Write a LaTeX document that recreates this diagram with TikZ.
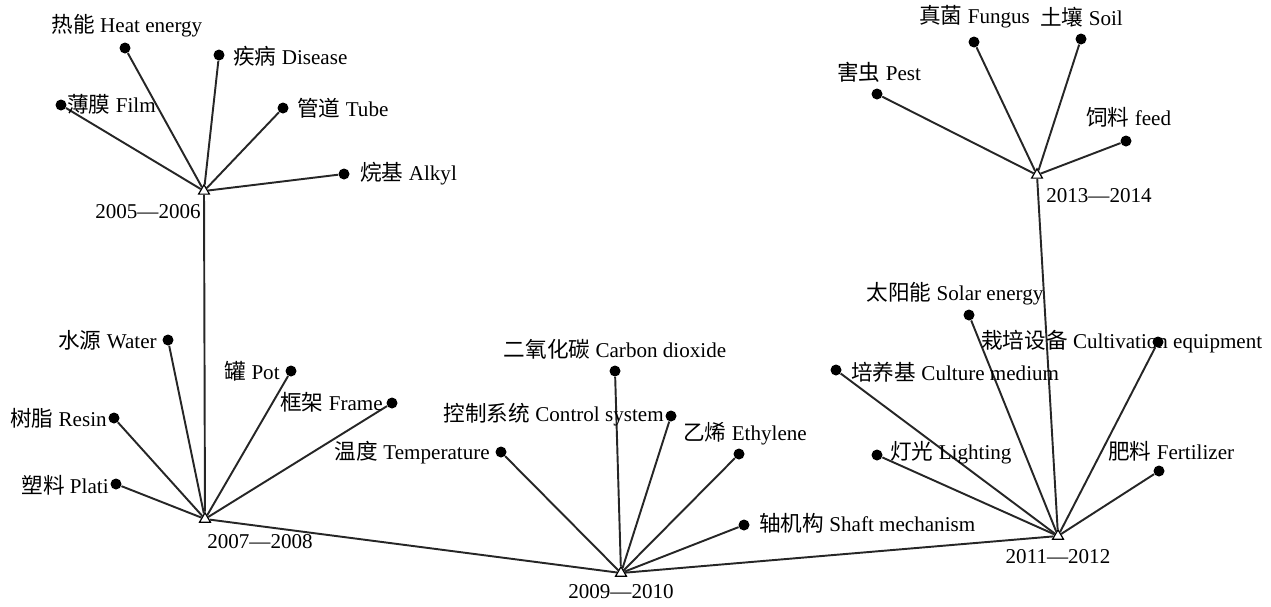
\documentclass[tikz,border=0pt]{standalone}
\usepackage{fontspec}
\setmainfont{Liberation Serif}
\newfontfamily\cjk{Noto Sans CJK SC}
\usetikzlibrary{shapes.geometric}
\newcommand{\zh}[1]{{\cjk\fontsize{12.3}{14}\selectfont #1}}
\tikzset{
  hub/.style={regular polygon, regular polygon sides=3, draw=black, fill=white, line width=0.7pt, inner sep=0pt, minimum size=0.25cm},
  leaf/.style={circle, fill=black, inner sep=0pt, minimum size=0.22cm},
  lab/.style={inner sep=0pt, font=\fontsize{12}{14}\selectfont},
  edge/.style={line width=1.1pt, draw=black!85}
}
\begin{document}
\begin{tikzpicture}[x=0.02cm, y=-0.02cm]
\useasboundingbox (0,0) rectangle (1271,606);
% hubs
\node[hub] (A) at (204,191) {};
\node[hub] (B) at (205,519) {};
\node[hub] (C) at (621,573) {};
\node[hub] (D) at (1058,536) {};
\node[hub] (E) at (1037,175) {};
% leaves
\node[leaf] (heat) at (125,48) {};
\node[leaf] (dis) at (219,55) {};
\node[leaf] (film) at (61,105) {};
\node[leaf] (tube) at (283,108) {};
\node[leaf] (alk) at (344,174) {};
\node[leaf] (water) at (168,340) {};
\node[leaf] (pot) at (291,371) {};
\node[leaf] (frame) at (392,403) {};
\node[leaf] (resin) at (114,418) {};
\node[leaf] (plati) at (116,484) {};
\node[leaf] (co2) at (615,371) {};
\node[leaf] (ctrl) at (671,416) {};
\node[leaf] (temp) at (501,452) {};
\node[leaf] (eth) at (739,454) {};
\node[leaf] (shaft) at (744,525) {};
\node[leaf] (solar) at (969,315) {};
\node[leaf] (cult) at (1158,342) {};
\node[leaf] (med) at (836,370) {};
\node[leaf] (light) at (877,455) {};
\node[leaf] (fert) at (1159,471) {};
\node[leaf] (pest) at (877,94) {};
\node[leaf] (fung) at (974,42) {};
\node[leaf] (soil) at (1081,39) {};
\node[leaf] (feed) at (1126,141) {};
% edges
\foreach \l in {heat,dis,film,tube,alk} \draw[edge] (A) -- (\l);
\foreach \l in {water,pot,frame,resin,plati} \draw[edge] (B) -- (\l);
\foreach \l in {co2,ctrl,temp,eth,shaft} \draw[edge] (C) -- (\l);
\foreach \l in {solar,cult,med,light,fert} \draw[edge] (D) -- (\l);
\foreach \l in {pest,fung,soil,feed} \draw[edge] (E) -- (\l);
\draw[edge] (B) -- (A);
\draw[edge] (B) -- (C);
\draw[edge] (C) -- (D);
\draw[edge] (D) -- (E);
% labels
\node[lab] (t1) at (127,26) {\zh{热能} Heat energy};
\node[lab, anchor=west] (t2) at (233,56) {\zh{疾病} Disease};
\node[lab, anchor=west] (t3) at (67,104) {\zh{薄膜} Film};
\node[lab, anchor=west] (t4) at (297,108) {\zh{管道} Tube};
\node[lab, anchor=west] (t5) at (360,174) {\zh{烷基} Alkyl};
\node[lab] (y1) at (148,212) {2005—2006};
\node[lab, anchor=east] (t6) at (157,340) {\zh{水源} Water};
\node[lab, anchor=east] (t7) at (280,371) {\zh{罐} Pot};
\node[lab, anchor=east] (t8) at (383,402) {\zh{框架} Frame};
\node[lab, anchor=east] (t9) at (107,418) {\zh{树脂} Resin};
\node[lab, anchor=east] (t10) at (109,485) {\zh{塑料} Plati};
\node[lab] (y2) at (260,542) {2007—2008};
\node[lab] (t11) at (615,349) {\zh{二氧化碳} Carbon dioxide};
\node[lab, anchor=east] (t12) at (664,415) {\zh{控制系统} Control system};
\node[lab, anchor=east] (t13) at (490,453) {\zh{温度} Temperature};
\node[lab, anchor=west] (t14) at (683,434) {\zh{乙烯} Ethylene};
\node[lab, anchor=west] (t15) at (759,523) {\zh{轴机构} Shaft mechanism};
\node[lab] (y3) at (621,592) {2009—2010};
\node[lab] (t16) at (955,294) {\zh{太阳能} Solar energy};
\node[lab, anchor=west] (t17) at (981,342) {\zh{栽培设备} Cultivation equipment};
\node[lab, anchor=west] (t18) at (851,372) {\zh{培养基} Culture medium};
\node[lab, anchor=west] (t19) at (890,453) {\zh{灯光} Lighting};
\node[lab, anchor=west] (t20) at (1108,451) {\zh{肥料} Fertilizer};
\node[lab] (y4) at (1058,557) {2011—2012};
\node[lab, anchor=west] (t21) at (837,72) {\zh{害虫} Pest};
\node[lab, anchor=west] (t22) at (919,17) {\zh{真菌} Fungus};
\node[lab, anchor=west] (t23) at (1040,17) {\zh{土壤} Soil};
\node[lab, anchor=west] (t24) at (1086,117) {\zh{饲料} feed};
\node[lab] (y5) at (1099,196) {2013—2014};
\end{tikzpicture}
\end{document}
